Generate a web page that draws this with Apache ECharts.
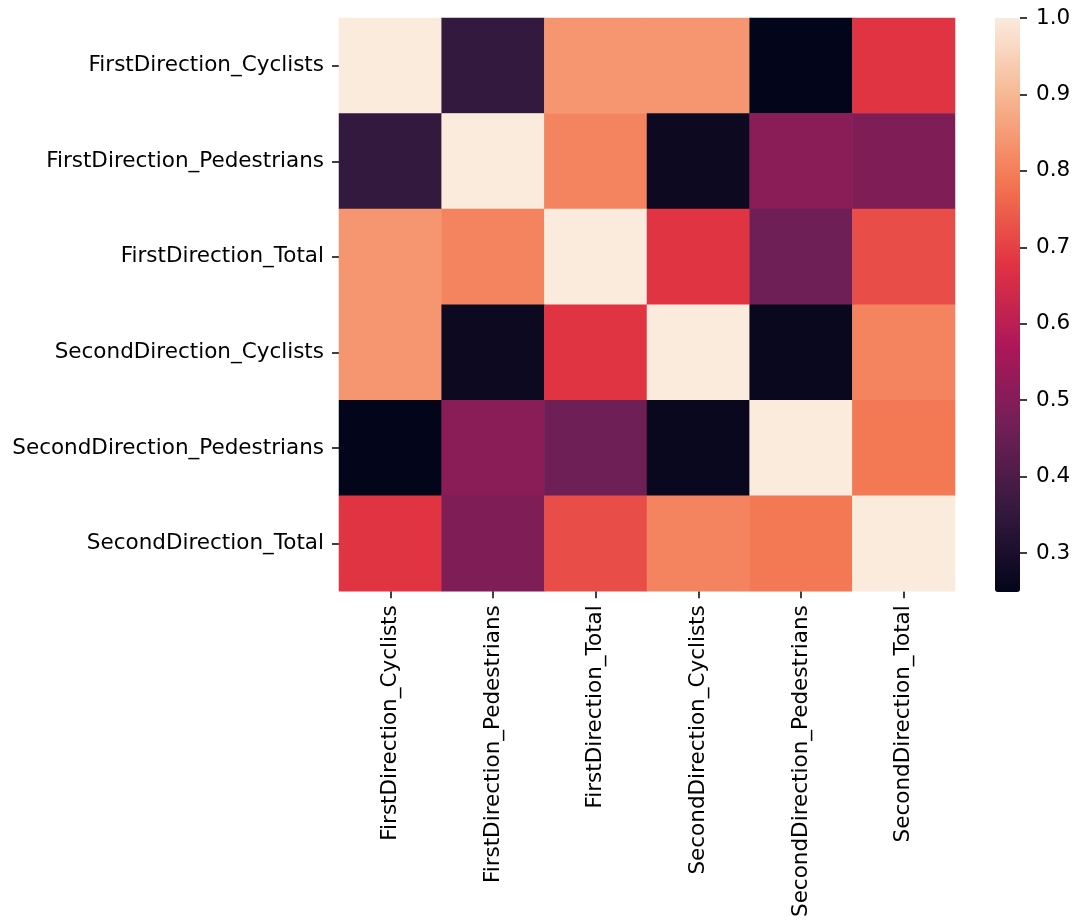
<!DOCTYPE html>
<html>
<head>
<meta charset="utf-8">
<script src="https://cdn.jsdelivr.net/npm/echarts@6/dist/echarts.min.js"></script>
<style>
  html, body { margin: 0; padding: 0; background: #ffffff; }
  #chart { width: 1082px; height: 920px; }
</style>
</head>
<body>
<div id="chart"></div>
<script>
// Variable names, in row / column order
const variables = [
  'FirstDirection_Cyclists',
  'FirstDirection_Pedestrians',
  'FirstDirection_Total',
  'SecondDirection_Cyclists',
  'SecondDirection_Pedestrians',
  'SecondDirection_Total'
];

// Correlation matrix rows
const rowFirstCyclists     = [1.00, 0.355, 0.84, 0.84, 0.25, 0.68];
const rowFirstPedestrians  = [0.355, 1.00, 0.81, 0.27, 0.51, 0.49];
const rowFirstTotal        = [0.84, 0.81, 1.00, 0.68, 0.46, 0.72];
const rowSecondCyclists    = [0.84, 0.27, 0.68, 1.00, 0.265, 0.81];
const rowSecondPedestrians = [0.25, 0.51, 0.46, 0.265, 1.00, 0.79];
const rowSecondTotal       = [0.68, 0.49, 0.72, 0.81, 0.79, 1.00];

const rows = [rowFirstCyclists, rowFirstPedestrians, rowFirstTotal,
              rowSecondCyclists, rowSecondPedestrians, rowSecondTotal];

// Colour scale range and colourbar ticks
const scaleMin = 0.249;
const scaleMax = 1.0;
const colorbarTicks = [0.3, 0.4, 0.5, 0.6, 0.7, 0.8, 0.9, 1.0];

// "rocket" colour map, evenly spaced stops
const rocket = ['#03051a', '#35193e', '#701f57', '#ad1759',
                '#e13342', '#f37651', '#f6b48f', '#faebdd'];

const cells = [];
rows.forEach((row, y) => row.forEach((v, x) => cells.push([x, y, v])));

const font = 'DejaVu Sans';
const fontSize = 21.5;

const chart = echarts.init(document.getElementById('chart'), null, { renderer: 'canvas' });

chart.setOption({
  animation: false,
  backgroundColor: '#ffffff',
  textStyle: { fontFamily: font },
  grid: [
    { left: 339, top: 18, width: 616, height: 574 },
    { left: 995, top: 18, width: 25, height: 574 }
  ],
  xAxis: [
    {
      type: 'category', gridIndex: 0, data: variables, position: 'bottom',
      axisLine: { show: false },
      axisTick: { show: true, length: 7, alignWithLabel: true, lineStyle: { color: '#000', width: 1.5 } },
      axisLabel: { rotate: 90, interval: 0, margin: 14, color: '#000', fontSize: fontSize, fontFamily: font },
      splitLine: { show: false }
    },
    {
      type: 'category', gridIndex: 1, data: [''], show: false
    }
  ],
  yAxis: [
    {
      type: 'category', gridIndex: 0, data: variables, inverse: true,
      axisLine: { show: false },
      axisTick: { show: true, length: 7, alignWithLabel: true, lineStyle: { color: '#000', width: 1.5 } },
      axisLabel: { interval: 0, margin: 15, color: '#000', fontSize: fontSize, fontFamily: font },
      splitLine: { show: false }
    },
    {
      type: 'value', gridIndex: 1, position: 'right', min: scaleMin, max: scaleMax,
      axisLine: { show: false },
      splitLine: { show: false },
      axisTick: { show: true, length: 7, customValues: colorbarTicks, lineStyle: { color: '#000', width: 1.5 } },
      axisLabel: {
        show: true, margin: 16, color: '#000', fontSize: fontSize, fontFamily: font,
        customValues: colorbarTicks,
        formatter: v => v.toFixed(1)
      }
    }
  ],
  visualMap: {
    type: 'continuous',
    min: scaleMin,
    max: scaleMax,
    seriesIndex: 0,
    calculable: false,
    realtime: false,
    left: 995,
    top: 18,
    itemWidth: 25,
    itemHeight: 574,
    padding: 0,
    text: ['', ''],
    textGap: 0,
    orient: 'vertical',
    inRange: { color: rocket }
  },
  series: [
    {
      type: 'heatmap',
      xAxisIndex: 0, yAxisIndex: 0,
      data: cells,
      itemStyle: { borderWidth: 0 },
      emphasis: { disabled: true }
    },
    {
      type: 'scatter',
      xAxisIndex: 1, yAxisIndex: 1,
      data: [],
      silent: true
    }
  ]
});
</script>
</body>
</html>
